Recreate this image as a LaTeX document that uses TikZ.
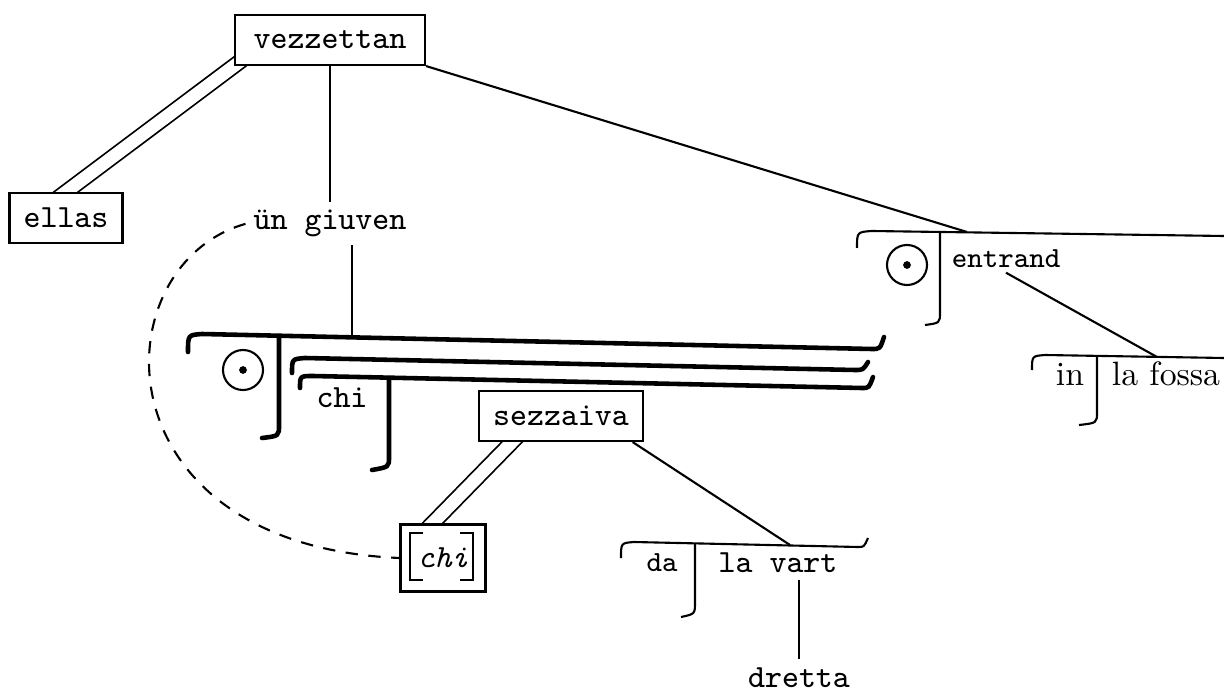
\documentclass[tikz,border=0pt]{standalone}
\usepackage{fontspec}
\usetikzlibrary{calc}
\usetikzlibrary{backgrounds}

\begin{document}
\begin{tikzpicture}[x=0.01cm, y=-0.01cm, line width=0.6pt,
  word/.style={font=\ttfamily\fontsize{9.2}{11}\selectfont, inner sep=2pt},
  wordbox/.style={word, draw, fill=white, minimum height=0.5cm, inner xsep=4pt},
  smallword/.style={font=\ttfamily\fontsize{8.3}{10}\selectfont, inner sep=1pt, anchor=base},
  romword/.style={font=\rmfamily\fontsize{9.6}{11}\selectfont, inner sep=1pt, anchor=base},
  shelf/.style={line width=1.3pt, line cap=round},
  dbl/.style={double, double distance=3.6pt, line width=0.5pt},
  circ/.style={circle, draw, minimum size=0.4cm, inner sep=0pt,
    path picture={\fill (path picture bounding box.center) circle (1.1pt);}}]
\useasboundingbox (0,0) rectangle (1224,691);
\node[wordbox, minimum width=1.9cm] (vezzettan) at (330,40) {vezzettan};
\node[wordbox] (ellas) at (66,218) {ellas};
\node[word, anchor=base] (giuven) at (330,230) {ün giuven};
\node[wordbox] (sezzaiva) at (561,416) {sezzaiva};
\node[word, anchor=base] (chi) at (342,407) {chi};
\node[draw, fill=white, minimum width=0.85cm, minimum height=0.67cm,
  font=\ttfamily\itshape\fontsize{9.2}{11}\selectfont] (chibox) at (443,558) {chi};
\draw ([shift={(24,10)}]chibox.north west) -- ++(-13,0) -- ++(0,47) -- ++(13,0);
\draw ([shift={(61,10)}]chibox.north west) -- ++(13,0) -- ++(0,47) -- ++(-13,0);
\node[smallword] (entrand) at (1006,268) {entrand};
\node[romword] (in) at (1070,385) {in};
\node[romword] (fossa) at (1166,385) {la fossa};
\node[smallword] (da) at (662,571) {da};
\node[word, anchor=base] (vart) at (778,572) {la vart};
\node[word, anchor=base] (dretta) at (799,687) {dretta};
\foreach \n/\x/\y in {A/243/370, B/907/265} {
 \node[circ] (dot\n) at (\x,\y) {};
}
\coordinate (clausetop) at (352,337);
\coordinate (entrandtop) at (967,232);
\coordinate (fossatop) at (1157,357);
\coordinate (varttop) at (790,545);
\begin{scope}[on background layer]
\draw[dbl, shorten <=-3pt, shorten >=-3pt] (ellas.north) -- (vezzettan.south west);
\draw[dbl, shorten <=-3pt, shorten >=-3pt] (sezzaiva.-152) -- (chibox.107);
\end{scope}
\draw (vezzettan) -- (giuven);
\draw (clausetop |- giuven.south) -- (clausetop);
\draw (vezzettan.south east) -- (entrandtop);
\draw (entrand.south) -- (fossatop);
\draw (sezzaiva.-20) -- (varttop);
\draw (dretta.north) -- (dretta.north |- vart.south);
\draw[dash pattern=on 3.5pt off 3pt] (giuven.west) .. controls (100,265) and (95,545) .. (chibox.west);
\draw[shelf] (188,352) .. controls (188,335) .. (202,334) -- (872,349) .. controls (880,349) .. (884,337);
\draw[shelf] (279,336) -- (279,425) .. controls (279,436) .. (262,438);
\draw[shelf] (292,373) .. controls (292,359) .. (305,358) -- (855,370) .. controls (863,370) .. (868,362);
\draw[shelf] (300,388) .. controls (300,376) .. (313,376) -- (862,388) .. controls (869,388) .. (873,377);
\draw[shelf] (389,378) -- (389,457) .. controls (389,467) .. (372,470);
\draw (857,248) .. controls (857,232) .. (872,231) -- (1224,236);
\draw (940,232) -- (940,312) .. controls (940,323) .. (925,325);
\draw (1032,370) .. controls (1032,356) .. (1045,355) -- (1224,358);
\draw (1097,356) -- (1097,412) .. controls (1097,423) .. (1079,425);
\draw (621,558) .. controls (621,543) .. (634,542) -- (858,547) .. controls (864,547) .. (868,538);
\draw (695,543) -- (695,602) .. controls (695,614) .. (681,617);
\end{tikzpicture}
\end{document}
